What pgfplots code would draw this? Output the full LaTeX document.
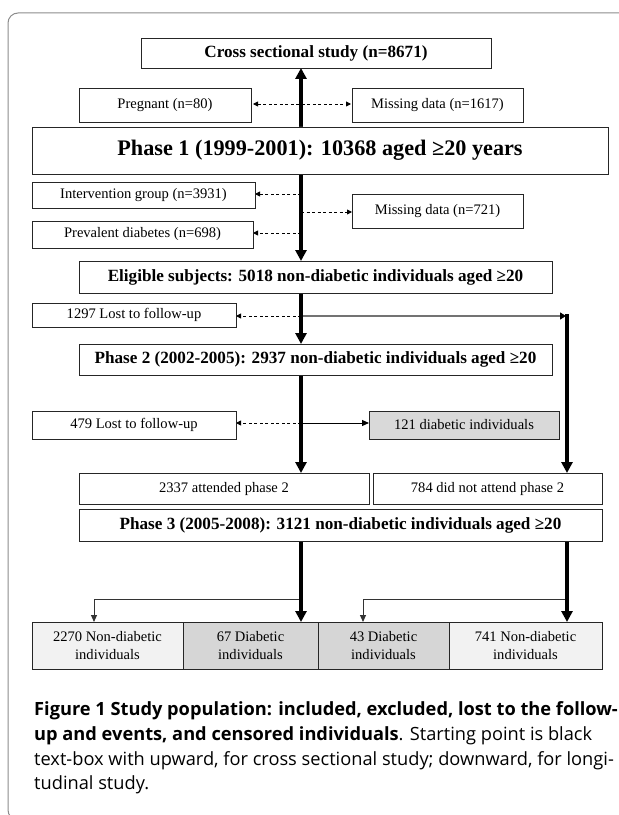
\documentclass[border=0pt]{standalone}
\usepackage{pgfplots}
\pgfplotsset{compat=1.18}
\usepackage{fontspec}
\setmainfont{Liberation Serif}
\newfontfamily\capfont{Open Sans}
\usetikzlibrary{arrows.meta}
\newcommand\rg{\fontsize{14.6}{19}\selectfont}
\newcommand\bd{\bfseries\fontsize{17.2}{20}\selectfont}
\newcommand\bx[7]{%
 \addplot[draw=black!85, line width=0.9bp, fill=#5, line join=miter] coordinates {(#1,#2) (#3,#2) (#3,#4) (#1,#4) (#1,#2)};
 \node[align=center, inner sep=0pt, font=#6] at (axis cs:{(#1+#3)/2},{(#2+#4)/2}) {#7};
}
\tikzset{
 thick arr/.style={line width=3.4bp, black, -{Triangle[width=11bp,length=11bp]}},
 dash arr/.style={line width=0.9bp, black, dash pattern=on 3bp off 2.5bp, -{Triangle[width=5bp,length=5bp]}},
 dash arr2/.style={line width=0.9bp, black, dash pattern=on 3bp off 2.5bp, {Triangle[width=5bp,length=5bp]}-{Triangle[width=5bp,length=5bp]}},
 thin arr/.style={line width=1bp, black!80, -{Triangle[width=6bp,length=7bp]}},
}
\begin{document}
\begin{tikzpicture}
\begin{axis}[at={(0,0)}, anchor=south west, scale only axis, width=619bp, height=815bp,
  xmin=0, xmax=619, ymin=0, ymax=815, y dir=reverse, hide axis, clip=false]
% frame
\draw[black!45, line width=1bp, rounded corners=10bp] (axis cs:700,13) -- (axis cs:8,13) -- (axis cs:8,820) -- (axis cs:700,820);
% thin and dashed connectors
\addplot[dash arr2] coordinates {(253,104) (351,104)};
\addplot[dash arr] coordinates {(301,194) (255,194)};
\addplot[dash arr] coordinates {(301,212) (352,212)};
\addplot[dash arr] coordinates {(301,233) (253,233)};
\addplot[dash arr] coordinates {(301,316) (236,316)};
\addplot[line width=1.4bp, black!55, -{Triangle[width=7bp,length=6bp,black]}] coordinates {(301,316) (566,316)};
\addplot[dash arr] coordinates {(301,423) (236,423)};
\addplot[line width=1bp, black, -{Triangle[width=6bp,length=7bp]}] coordinates {(301,423) (369,423)};
\addplot[thin arr] coordinates {(301,599) (94,599) (94,622)};
\addplot[thin arr] coordinates {(567,599) (363,599) (363,622)};
% thick arrows
\addplot[thick arr] coordinates {(301,127) (301,68)};
\addplot[thick arr] coordinates {(301,174) (301,261)};
\addplot[thick arr] coordinates {(301,293) (301,344)};
\addplot[thick arr] coordinates {(301,375) (301,473)};
\addplot[thick arr] coordinates {(567,314) (567,473)};
\addplot[thick arr] coordinates {(301,541) (301,622)};
\addplot[thick arr] coordinates {(567,541) (567,622)};
% boxes
\bx{141}{38}{491}{68}{white}{\bd}{Cross sectional study (n=8671)}
\bx{79}{88}{251}{122}{white}{\rg}{Pregnant (n=80)}
\bx{352}{88}{523}{122}{white}{\rg}{Missing data (n=1617)}
\bx{32}{127}{608}{174}{white}{\bfseries\fontsize{22.3}{26}\selectfont}{Phase 1 (1999-2001): 10368 aged ≥20 years}
\bx{32}{182}{255}{208}{white}{\rg}{Intervention group (n=3931)}
\bx{352}{194}{523}{228}{white}{\rg}{Missing data (n=721)}
\bx{32}{221}{253}{248}{white}{\rg}{Prevalent diabetes (n=698)}
\bx{79}{261}{552}{293}{white}{\bd}{Eligible subjects: 5018 non-diabetic individuals aged ≥20}
\bx{32}{303}{236}{327}{white}{\rg}{1297 Lost to follow-up}
\bx{79}{344}{552}{375}{white}{\bd}{Phase 2 (2002-2005): 2937 non-diabetic individuals aged ≥20}
\bx{32}{411}{236}{439}{white}{\rg}{479 Lost to follow-up}
\bx{369}{411}{559}{439}{black!15}{\rg}{121 diabetic individuals}
\bx{79}{473}{369}{504}{white}{\rg}{2337 attended phase 2}
\bx{373}{473}{602}{504}{white}{\rg}{784 did not attend phase 2}
\bx{79}{509}{602}{541}{white}{\bd}{Phase 3 (2005-2008): 3121 non-diabetic individuals aged ≥20}
\bx{32}{622}{183}{669}{black!5}{\rg}{2270 Non-diabetic\\individuals}
\bx{183}{622}{318}{669}{black!16}{\rg}{67 Diabetic\\individuals}
\bx{318}{622}{449}{669}{black!16}{\rg}{43 Diabetic\\individuals}
\bx{449}{622}{602}{669}{black!5}{\rg}{741 Non-diabetic\\individuals}
% caption
\node[anchor=base west, inner sep=0pt] at (axis cs:34,715) {\capfont\fontsize{18.3}{22}\selectfont\bfseries Figure 1 Study population: included, excluded, lost to the follow-};
\node[anchor=base west, inner sep=0pt] at (axis cs:34,740) {\capfont\fontsize{18.3}{22}\selectfont{\bfseries up and events, and censored individuals}. Starting point is black};
\node[anchor=base west, inner sep=0pt] at (axis cs:34,765) {\capfont\fontsize{18.3}{22}\selectfont text-box with upward, for cross sectional study; downward, for longi-};
\node[anchor=base west, inner sep=0pt] at (axis cs:34,789) {\capfont\fontsize{18.3}{22}\selectfont tudinal study.};
\end{axis}
\pgfresetboundingbox
\path (0,0) rectangle (619bp,815bp);
\end{tikzpicture}
\end{document}
